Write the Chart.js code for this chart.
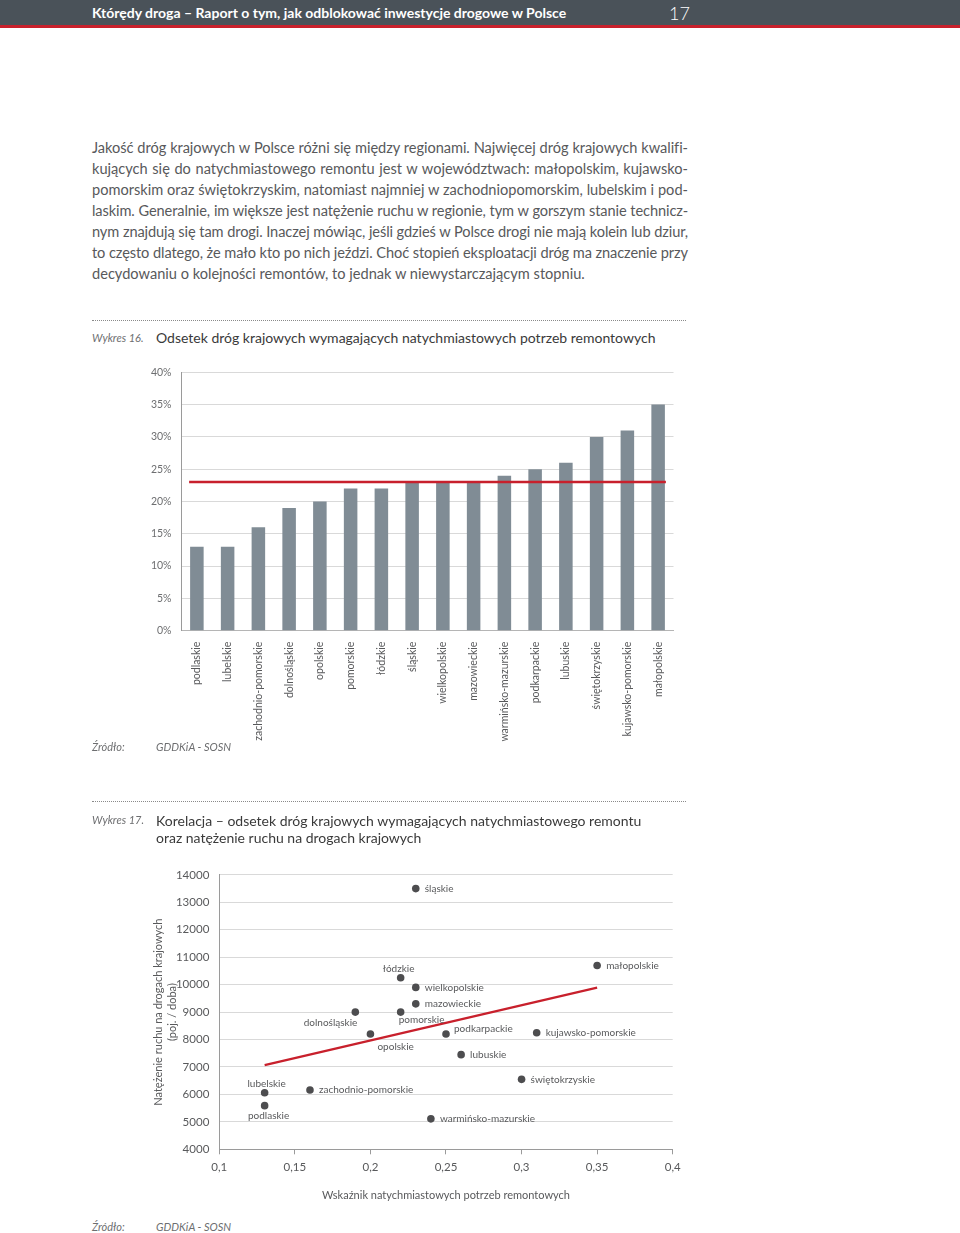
<!DOCTYPE html>
<html lang="pl">
<head>
<meta charset="utf-8">
<title>Wykres 16 i 17</title>
<script src="https://cdn.jsdelivr.net/npm/chart.js@4.4.1/dist/chart.umd.min.js"></script>
<style>
  body { margin: 0; width: 960px; height: 1233px; position: relative; background: #fff; font-family: Lato, "Open Sans", sans-serif; color: #58595b; overflow: hidden; }
  .abs { position: absolute; white-space: nowrap; }
  #header { position: absolute; left: 0; top: 0; width: 960px; height: 25px; background: #4a5259; border-bottom: 3px solid #c8202c; }
  #header .t { position: absolute; left: 92px; top: 4px; color: #fff; font-size: 14px; font-weight: 700; }
  #header .p { position: absolute; left: 669px; top: 2px; color: #fff; font-size: 18px; font-weight: 300; }
  .line { position: absolute; left: 92px; width: 596px; font-size: 14.6px; line-height: 21px; text-align: justify; text-align-last: justify; white-space: nowrap; }
  .line.last { text-align-last: left; }
  .sep { position: absolute; left: 92px; width: 594px; border-top: 1px dotted #8a8a8a; }
  .lbl { font-style: italic; font-size: 11px; color: #6d6e70; }
  .ttl { font-size: 14px; color: #3a3a3a; }
  canvas { position: absolute; }
</style>
</head>
<body>
<div id="header"><span class="t">Którędy droga – Raport o tym, jak odblokować inwestycje drogowe w Polsce</span><span class="p">17</span></div>

<div class="line" style="top:137px">Jakość dróg krajowych w Polsce różni się między regionami. Najwięcej dróg krajowych kwalifi-</div>
<div class="line" style="top:158px">kujących się do natychmiastowego remontu jest w województwach: małopolskim, kujawsko-</div>
<div class="line" style="top:179px">pomorskim oraz świętokrzyskim, natomiast najmniej w zachodniopomorskim, lubelskim i pod-</div>
<div class="line" style="top:200px">laskim. Generalnie, im większe jest natężenie ruchu w regionie, tym w gorszym stanie technicz-</div>
<div class="line" style="top:221px">nym znajdują się tam drogi. Inaczej mówiąc, jeśli gdzieś w Polsce drogi nie mają kolein lub dziur,</div>
<div class="line" style="top:242px">to często dlatego, że mało kto po nich jeździ. Choć stopień eksploatacji dróg ma znaczenie przy</div>
<div class="line last" style="top:263px">decydowaniu o kolejności remontów, to jednak w niewystarczającym stopniu.</div>

<div class="sep" style="top:320px"></div>
<div class="abs lbl" style="left:92px; top:331px">Wykres 16.</div>
<div class="abs ttl" style="left:156px; top:329px">Odsetek dróg krajowych wymagających natychmiastowych potrzeb remontowych</div>
<canvas id="barChart" width="600" height="404" style="left:100px; top:356px"></canvas>
<div class="abs lbl" style="left:92px; top:740px">Źródło:</div>
<div class="abs lbl" style="left:156px; top:740px">GDDKiA - SOSN</div>

<div class="sep" style="top:801px"></div>
<div class="abs lbl" style="left:92px; top:813px">Wykres 17.</div>
<div class="abs ttl" style="left:156px; top:812px; line-height:17px">Korelacja – odsetek dróg krajowych wymagających natychmiastowego remontu<br>oraz natężenie ruchu na drogach krajowych</div>
<canvas id="scatterChart" width="600" height="362" style="left:100px; top:858px"></canvas>
<div class="abs lbl" style="left:92px; top:1220px">Źródło:</div>
<div class="abs lbl" style="left:156px; top:1220px">GDDKiA - SOSN</div>

<script>
// Wykres 16 - odsetek dróg wymagających natychmiastowego remontu (%)
const regions = ['podlaskie', 'lubelskie', 'zachodnio-pomorskie', 'dolnośląskie', 'opolskie', 'pomorskie', 'łódzkie', 'śląskie',
    'wielkopolskie', 'mazowieckie', 'warmińsko-mazurskie', 'podkarpackie', 'lubuskie', 'świętokrzyskie', 'kujawsko-pomorskie', 'małopolskie'];
const repairShare = [13, 13, 16, 19, 20, 22, 22, 23, 23, 23, 24, 25, 26, 30, 31, 35];
const nationalAverage = 23;
const shareTicks = [0, 5, 10, 15, 20, 25, 30, 35, 40];

// Wykres 17 - korelacja wskaźnik remontów / natężenie ruchu
const scatterRegions = ['śląskie', 'łódzkie', 'wielkopolskie', 'mazowieckie', 'dolnośląskie', 'pomorskie', 'opolskie', 'podkarpackie',
    'kujawsko-pomorskie', 'małopolskie', 'lubuskie', 'świętokrzyskie', 'lubelskie', 'podlaskie', 'zachodnio-pomorskie', 'warmińsko-mazurskie'];
const repairIndex = [0.23, 0.22, 0.23, 0.23, 0.19, 0.22, 0.20, 0.25, 0.31, 0.35, 0.26, 0.30, 0.13, 0.13, 0.16, 0.24];
const trafficVolume = [13500, 10250, 9900, 9300, 9000, 9000, 8200, 8200, 8250, 10700, 7450, 6550, 6060, 5590, 6160, 5110];
const trendX = [0.13, 0.35];
const trendY = [7070, 9890];
const indexTicks = [0.1, 0.15, 0.2, 0.25, 0.3, 0.35, 0.4];
const trafficTicks = [4000, 5000, 6000, 7000, 8000, 9000, 10000, 11000, 12000, 13000, 14000];

Chart.defaults.font.family = 'Lato, "Open Sans", sans-serif';
Chart.defaults.color = '#58595b';
Chart.defaults.animation = false;

const RED = '#c8202c';
const GRID = '#d9d9d9';
const AXIS = '#9a9a9a';

// squeeze body lines that run wider than the column
document.querySelectorAll('.line').forEach(el => {
    let ls = 0;
    while (el.scrollWidth > el.clientWidth && ls > -1) {
        ls -= 0.05;
        el.style.letterSpacing = ls + 'px';
    }
});

// red line for the national average, spanning all bars
const averageLinePlugin = {
    id: 'averageLine',
    afterDatasetsDraw(chart) {
        const meta = chart.getDatasetMeta(0);
        const first = meta.data[0];
        const last = meta.data[meta.data.length - 1];
        const y = chart.scales.y.getPixelForValue(nationalAverage);
        const ctx = chart.ctx;
        ctx.save();
        ctx.strokeStyle = RED;
        ctx.lineWidth = 2.5;
        ctx.beginPath();
        ctx.moveTo(first.x - first.width / 2 - 1, y);
        ctx.lineTo(last.x + last.width / 2 + 1, y);
        ctx.stroke();
        ctx.restore();
    }
};

new Chart(document.getElementById('barChart'), {
    type: 'bar',
    data: {
        labels: regions,
        datasets: [{
            data: repairShare,
            backgroundColor: '#808c95',
            barPercentage: 0.44,
            categoryPercentage: 1
        }]
    },
    options: {
        responsive: false,
        devicePixelRatio: 1,
        layout: { padding: { top: 0, right: 26.5, left: 0, bottom: 0 } },
        plugins: { legend: { display: false }, tooltip: { enabled: false } },
        scales: {
            x: {
                grid: { display: false },
                border: { color: '#b5b5b5' },
                ticks: { autoSkip: false, minRotation: 90, maxRotation: 90, padding: 3, font: { size: 10.5 }, color: '#58595b' },
                afterFit(scale) { scale.height = 129.3; }
            },
            y: {
                min: 0,
                max: 40,
                afterBuildTicks(scale) { scale.ticks = shareTicks.map(v => ({ value: v })); },
                grid: { color: GRID, drawTicks: false },
                border: { color: AXIS },
                ticks: { padding: 10, font: { size: 10.5 }, color: '#6d6e70', callback: v => v + '%' },
                afterFit(scale) { scale.width = 81.5; }
            }
        }
    },
    plugins: [averageLinePlugin]
});

// where each region name sits relative to its point
const labelPlacement = {
    'łódzkie': { dx: -2, dy: -9, align: 'center' },
    'lubelskie': { dx: 2, dy: -9, align: 'center' },
    'podlaskie': { dx: 4, dy: 10, align: 'center' },
    'dolnośląskie': { dx: 2, dy: 11, align: 'right' },
    'pomorskie': { dx: -2, dy: 8, align: 'left' },
    'opolskie': { dx: 7, dy: 13, align: 'left' },
    'podkarpackie': { dx: 8, dy: -5, align: 'left' }
};

const pointLabelPlugin = {
    id: 'pointLabels',
    afterDatasetsDraw(chart) {
        const meta = chart.getDatasetMeta(0);
        const ctx = chart.ctx;
        ctx.save();
        ctx.font = '10px Lato, "Open Sans", sans-serif';
        ctx.fillStyle = '#58595b';
        ctx.textBaseline = 'middle';
        meta.data.forEach((pt, i) => {
            const name = scatterRegions[i];
            const p = labelPlacement[name] || { dx: 9, dy: 0, align: 'left' };
            ctx.textAlign = p.align;
            ctx.fillText(name, pt.x + p.dx, pt.y + p.dy);
        });
        ctx.restore();
    }
};

new Chart(document.getElementById('scatterChart'), {
    type: 'scatter',
    data: {
        datasets: [{
            data: scatterRegions.map((r, i) => ({ x: repairIndex[i], y: trafficVolume[i] })),
            backgroundColor: '#4d4d4f',
            borderWidth: 0,
            pointRadius: 3.8
        }, {
            type: 'line',
            data: trendX.map((x, i) => ({ x: x, y: trendY[i] })),
            borderColor: RED,
            borderWidth: 2.2,
            pointRadius: 0,
            fill: false
        }]
    },
    options: {
        responsive: false,
        devicePixelRatio: 1,
        layout: { padding: { top: 0, right: 27.3, left: 0, bottom: 0 } },
        plugins: { legend: { display: false }, tooltip: { enabled: false } },
        scales: {
            x: {
                type: 'linear',
                min: 0.1,
                max: 0.4,
                afterBuildTicks(scale) { scale.ticks = indexTicks.map(v => ({ value: v })); },
                grid: { drawOnChartArea: false, drawTicks: true, tickLength: 5, color: AXIS },
                border: { color: AXIS },
                ticks: { padding: 6, font: { size: 11.5 }, color: '#58595b', callback: v => String(parseFloat(v.toFixed(2))).replace('.', ',') },
                title: { display: true, text: 'Wskaźnik natychmiastowych potrzeb remontowych', font: { size: 11 }, color: '#58595b', padding: { top: 0, bottom: 18 } },
                afterFit(scale) { scale.height = 70.7; }
            },
            y: {
                min: 4000,
                max: 14000,
                afterBuildTicks(scale) { scale.ticks = trafficTicks.map(v => ({ value: v })); },
                grid: { color: GRID, drawTicks: false },
                border: { color: AXIS },
                ticks: { padding: 10, font: { size: 11.5 }, color: '#58595b', callback: v => String(v) },
                title: { display: true, text: ['Natężenie ruchu na drogach krajowych', '(poj. / doba)'], font: { size: 11, lineHeight: 1.27 }, color: '#58595b', padding: { top: 51, bottom: 0 } },
                afterFit(scale) { scale.width = 119.3; }
            }
        }
    },
    plugins: [pointLabelPlugin]
});
</script>
</body>
</html>
